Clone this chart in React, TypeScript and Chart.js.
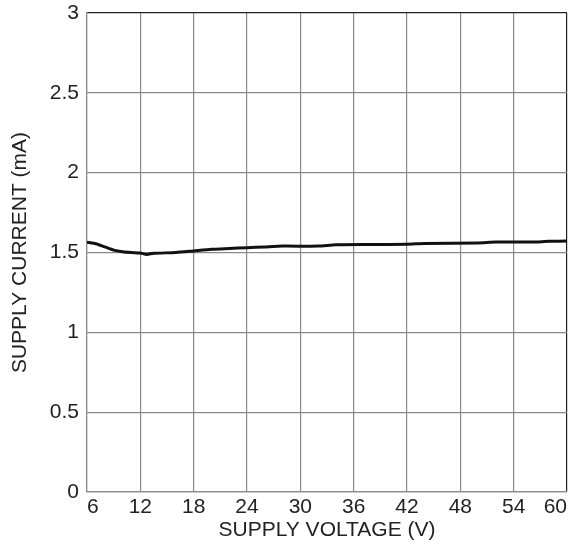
import React, { useEffect, useRef } from "react";
import { Chart, registerables } from "chart.js";

Chart.register(...registerables);

const voltage = [6, 7, 8, 9, 10, 11, 12, 12.7, 13.5, 16, 18, 20, 22, 24, 26, 28, 32, 34, 38, 42, 44, 50, 52, 56, 58, 60];
const current = [1.565, 1.555, 1.535, 1.515, 1.505, 1.5, 1.497, 1.488, 1.495, 1.5, 1.51, 1.52, 1.525, 1.53, 1.535, 1.54, 1.54, 1.548, 1.55, 1.552, 1.557, 1.56, 1.565, 1.565, 1.57, 1.572];

const xTitle = "SUPPLY VOLTAGE (V)";
const yTitle = "SUPPLY CURRENT (mA)";

export default function App() {
  const ref = useRef<HTMLCanvasElement | null>(null);

  useEffect(() => {
    if (!ref.current) return;
    const font = { family: "'Liberation Sans', Arial, sans-serif", size: 21 };
    const chart = new Chart(ref.current, {
      type: "line",
      data: {
        datasets: [
          {
            data: voltage.map((v, i) => ({ x: v, y: current[i] })),
            borderColor: "#111",
            borderWidth: 3,
            pointRadius: 0,
            tension: 0.2,
          },
        ],
      },
      options: {
        animation: false,
        responsive: false,
        maintainAspectRatio: false,
        layout: { padding: { top: 13, right: 10, left: 0, bottom: 0 } },
        plugins: { legend: { display: false }, tooltip: { enabled: false } },
        scales: {
          x: {
            type: "linear",
            min: 6,
            max: 60,
            ticks: { stepSize: 6, font, color: "#222", padding: 3, maxRotation: 0, align: "inner" },
            grid: {
              color: (ctx: any) => (ctx.tick && ctx.tick.value === 60 ? "#222" : "#8a8a8a"),
              lineWidth: 1.2,
              drawTicks: false,
            },
            border: { color: "#8a8a8a", width: 1.2 },
            title: { display: true, text: xTitle, font, color: "#222", padding: { top: 0, bottom: 1 } },
            afterFit: (s: any) => {
              s.height = 52;
              s.paddingLeft = 0;
              s.paddingRight = 0;
            },
          },
          y: {
            min: 0,
            max: 3,
            ticks: {
              stepSize: 0.5,
              font,
              color: "#222",
              padding: 8,
              callback: (v: any) => String(Number(v)),
            },
            grid: {
              color: (ctx: any) => (ctx.tick && ctx.tick.value === 3 ? "#222" : "#8a8a8a"),
              lineWidth: 1.2,
              drawTicks: false,
            },
            border: { color: "#8a8a8a", width: 1.2 },
            title: { display: true, text: yTitle, font, color: "#222", padding: { top: 8, bottom: 0 } },
            afterFit: (s: any) => {
              s.width = 87;
              s.paddingTop = 0;
              s.paddingBottom = 0;
            },
          },
        },
      },
    });
    return () => chart.destroy();
  }, []);

  return (
    <div style={{ position: "fixed", left: 0, top: 0, width: 577, height: 544, background: "#fff" }}>
      <canvas ref={ref} width={577} height={544} style={{ width: 577, height: 544 }} />
    </div>
  );
}
